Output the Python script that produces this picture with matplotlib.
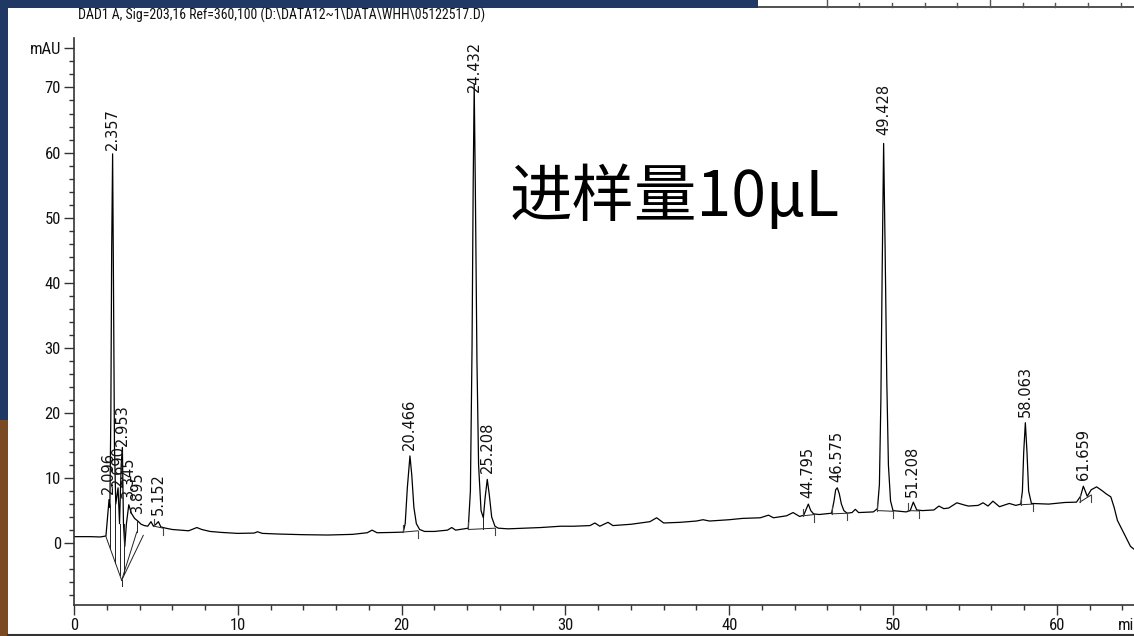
import matplotlib
matplotlib.use("Agg")
import matplotlib.pyplot as plt
from matplotlib import font_manager
from matplotlib.patches import Rectangle
from matplotlib.lines import Line2D
from matplotlib.ticker import MultipleLocator

# chromatogram trace (time in min, signal in mAU)
time = [0, 1.0, 1.6, 1.95, 2.05, 2.14, 2.19, 2.25, 2.30, 2.357, 2.41, 2.47, 2.55,
        2.69, 2.78, 2.88, 2.953, 3.02, 3.10, 3.2, 3.345, 3.5, 3.7, 3.895, 4.1,
        4.3, 4.5, 4.7, 4.85, 5.0, 5.152, 5.3, 5.6, 6.0, 6.5, 7.0, 7.3, 7.5, 7.8,
        8.3, 9.0, 10.0, 11.0, 11.2, 11.5, 12.5, 14.0, 15.5, 17.0, 17.9, 18.2,
        18.5, 19.5, 20.1, 20.22, 20.35, 20.51, 20.62, 20.75, 20.9, 21.1, 21.4,
        22.0, 22.8, 23.06, 23.3, 24.07, 24.2, 24.3, 24.37, 24.432, 24.5, 24.6,
        24.7, 24.85, 24.99, 25.1, 25.23, 25.35, 25.5, 25.7, 25.9, 26.5, 27.5,
        28.5, 29.7, 30.5, 31.5, 31.8, 32.1, 32.6, 32.9, 34.0, 35.16, 35.57, 36.0,
        37.0, 38.0, 38.4, 38.8, 40.0, 40.8, 41.9, 42.4, 42.7, 43.5, 43.9, 44.3,
        44.55, 44.7, 44.83, 44.98, 45.15, 45.5, 46.25, 46.4, 46.5, 46.6, 46.72,
        46.85, 47.0, 47.2, 47.5, 47.7, 47.9, 48.8, 49.05, 49.17, 49.26, 49.34,
        49.428, 49.52, 49.62, 49.72, 49.85, 50.0, 50.8, 51.05, 51.24, 51.45,
        51.8, 52.5, 52.8, 53.1, 53.4, 53.9, 54.3, 54.6, 55.2, 55.5, 55.8, 56.1,
        56.5, 57.1, 57.5, 57.8, 57.9, 57.98, 58.08, 58.18, 58.28, 58.45, 59.5,
        60.5, 61.2, 61.45, 61.62, 61.86, 62.1, 62.43, 62.8, 63.0, 63.3, 63.5,
        63.7, 64.1, 64.5, 64.75]
signal = [1.0, 1.0, 0.95, 1.1, 4.0, 6.7, 5.5, 20.0, 45.0, 59.8, 40.0, 15.0, 6.0,
          8.5, 3.0, 12.0, 14.7, 3.0, -0.5, 3.0, 5.9, 4.6, 3.8, 3.4, 2.9,
          2.7, 2.6, 3.3, 2.6, 2.9, 3.3, 2.5, 2.3, 2.1, 2.0, 1.9, 2.2, 2.4, 2.1,
          1.8, 1.65, 1.5, 1.55, 1.75, 1.5, 1.4, 1.3, 1.25, 1.35, 1.6, 2.0,
          1.6, 1.65, 1.7, 3.0, 8.5, 13.4, 10.5, 5.5, 3.0, 2.1, 1.8,
          1.8, 2.0, 2.4, 2.0, 2.3, 8.0, 30.0, 55.0, 70.5, 55.0, 28.0,
          12.0, 5.0, 3.9, 7.0, 9.8, 7.5, 4.0, 2.6, 2.3, 2.2, 2.3,
          2.4, 2.6, 2.6, 2.7, 3.1, 2.6, 3.2, 2.7, 2.9, 3.3, 3.9, 3.1,
          3.2, 3.4, 3.6, 3.4, 3.6, 3.8, 3.9, 4.3, 3.9, 4.2, 4.7, 4.1,
          4.3, 5.2, 6.0, 5.0, 4.5, 4.4, 4.6, 6.5, 8.2, 8.5, 7.6,
          6.0, 5.0, 4.6, 4.7, 5.2, 4.7, 4.8, 5.3, 9.0, 22.0, 42.0,
          61.4, 45.0, 25.0, 12.0, 6.5, 5.0, 4.8, 5.0, 6.3, 5.1,
          5.0, 5.1, 5.7, 5.3, 5.4, 6.2, 5.9, 5.7, 5.8, 6.2, 5.7, 6.45,
          5.6, 6.1, 5.8, 6.0, 8.0, 14.0, 18.5, 14.0, 8.0, 6.1, 6.0,
          6.25, 6.3, 7.2, 8.75, 7.2, 8.2, 8.65, 8.0, 7.6, 7.1, 5.5,
          3.5, 1.5, -0.5, -1.0]

# peak table
peak_labels = ["2.096", "2.357", "2.690", "2.953", "3.345", "3.895", "5.152",
               "20.466", "24.432", "25.208", "44.795", "46.575", "49.428",
               "51.208", "58.063", "61.659"]
peak_rt = [2.096, 2.357, 2.690, 2.953, 3.345, 3.895, 5.152, 20.466, 24.432,
           25.208, 44.795, 46.575, 49.428, 51.208, 58.063, 61.659]
label_y = [7.6, 60.4, 8.6, 15.0, 6.9, 4.6, 4.3, 14.3, 69.3, 10.8, 6.9, 9.4,
           62.7, 7.1, 19.4, 9.7]

# integration baselines: start time, start level, end time, end level
base_t0 = [4.9, 20.1, 24.07, 44.52, 46.26, 49.05, 50.93, 57.8, 61.4]
base_y0 = [2.6, 1.7, 2.1, 4.2, 4.5, 5.0, 5.0, 5.9, 6.3]
base_t1 = [5.45, 21.0, 25.7, 45.2, 47.2, 50.0, 51.6, 58.53, 62.1]
base_y1 = [2.3, 1.9, 2.3, 4.4, 4.6, 4.9, 4.95, 6.0, 7.4]

# early cluster: baseline and drop lines
cluster_t = [(1.95, 2.91), (2.91, 4.23), (2.91, 3.83), (2.22, 2.22), (2.52, 2.52),
             (2.80, 2.80), (3.05, 3.05), (3.83, 3.83), (24.99, 24.99), (2.91, 2.91)]
cluster_y = [(1.0, -5.7), (-5.7, 1.2), (-5.7, 1.7), (5.5, -0.9), (6.0, -3.0),
             (3.0, -4.9), (3.0, -4.7), (3.4, 1.7), (3.9, 2.2), (-5.7, -6.6)]

x_major = [0, 10, 20, 30, 40, 50, 60]
y_major = [0, 10, 20, 30, 40, 50, 60, 70, 76]
y_major_labels = ["0", "10", "20", "30", "40", "50", "60", "70", "mAU"]

# pick a narrow face if one is installed, otherwise shrink the regular one
names = {f.name for f in font_manager.fontManager.ttflist}
narrow = None
for cand in ["Liberation Sans Narrow", "Arial Narrow", "Roboto Condensed",
             "Open Sans Condensed", "Noto Sans Display"]:
    if cand in names:
        narrow = cand
        break
if narrow is None:
    narrow, title_size, tick_size = "Liberation Sans", 9.6, 11
else:
    title_size, tick_size = 10.0, 12

fig = plt.figure(figsize=(11.34, 6.36), dpi=100)
fig.patch.set_facecolor("#1f3864")
W, H = 1134.0, 636.0

# white panel and bits of the surrounding slide
fig.add_artist(Rectangle((8 / W, 1 / H), 1 - 8 / W, (636 - 8 - 1) / H,
                         transform=fig.transFigure, facecolor="white",
                         edgecolor="none", zorder=0))
fig.add_artist(Line2D([8 / W, 1], [1.2 / H, 1.2 / H], transform=fig.transFigure,
                      color="#333333", lw=1.5))
fig.add_artist(Rectangle((758 / W, 1 - 8 / H), 1 - 758 / W, 8 / H,
                         transform=fig.transFigure, facecolor="white",
                         edgecolor="none", zorder=0))
fig.add_artist(Line2D([758 / W, 1], [1 - 6.5 / H, 1 - 6.5 / H],
                      transform=fig.transFigure, color="#333333", lw=1.2))
for i in range(10):
    px = 826.7 + i * 32.67
    top = 0.0 if i in (0, 5) else 3.0
    fig.add_artist(Line2D([px / W, px / W], [1 - 6.5 / H, 1 - top / H],
                          transform=fig.transFigure, color="#555555", lw=1.0))
fig.add_artist(Rectangle((0, 0), 8 / W, (636 - 420) / H, transform=fig.transFigure,
                         facecolor="#7a4a22", edgecolor="none", zorder=0))

ax = fig.add_axes([74 / W, 31 / H, 1 - 74 / W, (605 - 38) / H])
ax.set_facecolor("none")

ax.plot(time, signal, color="black", lw=0.9)

for t0, y0, t1, y1 in zip(base_t0, base_y0, base_t1, base_y1):
    ax.plot([t0, t1], [y0, y1], color="#222222", lw=0.7)
    ax.plot([t0, t0], [y0, y0 + 1.1], color="#444444", lw=0.8)
    ax.plot([t1, t1], [y1, y1 - 1.1], color="#444444", lw=0.8)
for tt, yy in zip(cluster_t, cluster_y):
    ax.plot(tt, yy, color="#222222", lw=0.7)

for lab, rt, ly in zip(peak_labels, peak_rt, label_y):
    ax.text(rt, ly, lab, rotation=90, ha="center", va="bottom",
            fontsize=10.5, family="DejaVu Sans", color="#111111")

ax.text(26.6, 53.1, "进样量10μL", fontsize=45, ha="left", va="center",
        family=["Noto Sans CJK SC", "DejaVu Sans"], color="black")

ax.set_xlim(0, (W - 74) / 16.38)
ax.set_ylim(-9.5, 77.6)
ax.set_xticks(x_major)
ax.set_xticklabels([str(v) for v in x_major])
ax.xaxis.set_minor_locator(MultipleLocator(2))
ax.set_yticks(y_major)
ax.set_yticklabels(y_major_labels)
ax.yaxis.set_minor_locator(MultipleLocator(2))
ax.tick_params(which="major", length=7, width=1, color="#333333",
               labelsize=tick_size, pad=2.5)
ax.tick_params(which="minor", length=3.5, width=1, color="#333333")
for lab in ax.get_xticklabels() + ax.get_yticklabels():
    lab.set_family(narrow)
    lab.set_color("#111111")
ax.annotate("min", xy=(63.75, 0), xycoords=("data", "axes fraction"),
            xytext=(0, -9.5), textcoords="offset points", ha="left", va="top",
            fontsize=tick_size, family=narrow, color="#111111",
            annotation_clip=False)
for side in ("top", "right"):
    ax.spines[side].set_visible(False)
for side in ("left", "bottom"):
    ax.spines[side].set_color("#333333")
    ax.spines[side].set_linewidth(1.2)

fig.text(78 / W, 1 - 15.5 / H,
         "DAD1 A, Sig=203,16 Ref=360,100 (D:\\DATA12~1\\DATA\\WHH\\05122517.D)",
         ha="left", va="center", fontsize=title_size, family=narrow,
         color="#111111")

fig.savefig("out.png", dpi=100, facecolor=fig.get_facecolor())
